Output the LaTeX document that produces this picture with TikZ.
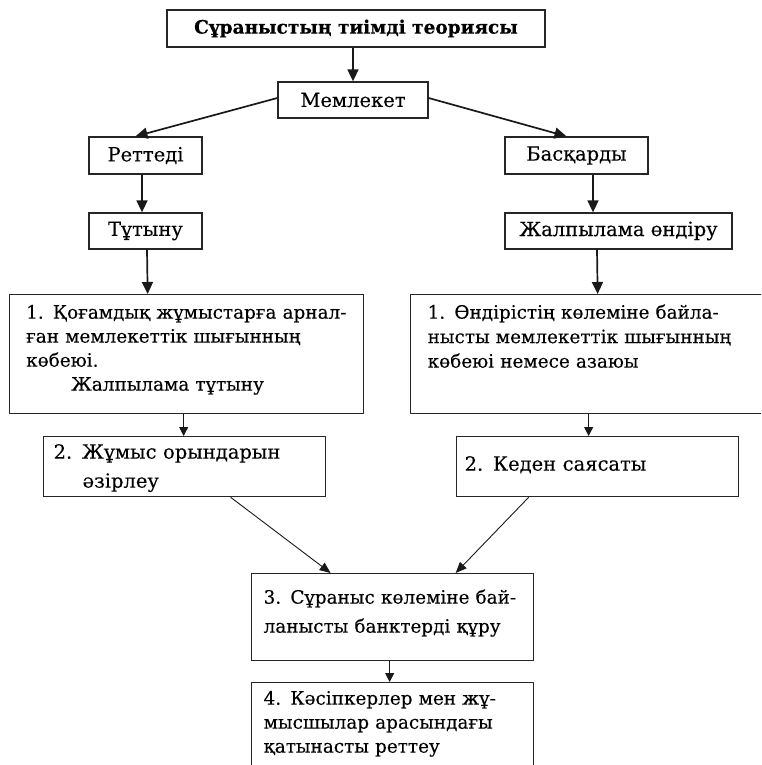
\documentclass[tikz,border=0pt]{standalone}
\usepackage{fontspec}
\setmainfont{DejaVu Serif}[FakeBold=0.2]
\usetikzlibrary{arrows.meta}
\begin{document}
\begin{tikzpicture}[x=1pt,y=-1pt,
  box/.style={draw=black!85, line width=1.3pt, fill=white, inner sep=0pt,
    font=\fontsize{19.5}{24}\selectfont, text=black},
  multibox/.style={box, align=left, font=\fontsize{18.4}{24}\selectfont},
  bigarr/.style={draw=black!90, line width=1.7pt, -{Triangle[length=12pt,width=11pt]}},
  midarr/.style={draw=black!90, line width=1.1pt, -{Triangle[length=9pt,width=9pt]}},
  thinarr/.style={draw=black!90, line width=0.9pt, -{Triangle[length=11pt,width=9pt]}}]
\useasboundingbox (0,0) rectangle (761,765);
\clip (0,0) rectangle (761,765);
% top boxes
\node[box, minimum width=378pt, minimum height=37pt, font=\fontsize{18.5}{24}\selectfont\bfseries] (title) at (356,28.5) {Сұраныстың тиімді теориясы};
\node[box, minimum width=150pt, minimum height=36pt] (mem) at (353,100) {Мемлекет};
\node[box, minimum width=113pt, minimum height=37pt] (ret) at (145.5,155.5) {Реттеді};
\node[box, minimum width=143pt, minimum height=37pt] (bas) at (576.5,155.5) {Басқарды};
\node[box, minimum width=113pt, minimum height=36pt] (tut) at (145.5,231) {Тұтыну};
\node[box, minimum width=227pt, minimum height=36pt] (zhal) at (618.5,231) {Жалпылама өндіру};
% box 1 left
\node[multibox, anchor=north west, text width=321pt, inner xsep=16.5pt,
  text height=24pt, text depth=95pt] (b1L) at (9,294)
  {\makebox[321pt][s]{1. Қоғамдық жұмыстарға арнал-}\\
   \makebox[321pt][s]{ған мемлекеттік шығынның}\\
   көбеюі.\\
   \hspace*{45pt}Жалпылама тұтыну};
% box 1 right
\node[multibox, anchor=north west, text width=326pt, inner xsep=17pt,
  text height=24pt, text depth=95pt] (b1R) at (410,294)
  {\makebox[326pt][s]{1. Өндірістің көлеміне байла-}\\[0.5pt]
   \makebox[326pt][s]{нысты мемлекеттік шығынның}\\[0.5pt]
   көбеюі немесе азаюы};
% box 2 left / right
\node[box, align=left, anchor=north west, text width=262pt, inner xsep=10pt,
  text height=22pt, text depth=38pt] (b2L) at (43,436)
  {2. Жұмыс орындарын\\[5pt]
   \hspace*{29pt}әзірлеу};
\node[box, align=left, anchor=north west, text width=266pt, inner xsep=8pt,
  text height=34pt, text depth=26pt] (b2R) at (456,436)
  {2. Кеден саясаты};
% box 3
\node[multibox, anchor=north west, text width=258pt, inner xsep=12pt,
  text height=30pt, text depth=57pt] (b3) at (251,573)
  {\makebox[258pt][s]{3. Сұраныс көлеміне бай-}\\[5pt]
   \makebox[258pt][s]{ланысты банктерді құру}};
% box 4 (runs past the lower edge)
\node[multibox, anchor=north west, text width=258pt, inner xsep=12pt,
  text height=22pt, text depth=96pt] (b4) at (251,682)
  {\makebox[258pt][s]{4. Кәсіпкерлер мен жұ-}\\
   \makebox[258pt][s]{мысшылар арасындағы}\\
   қатынасты реттеу};
% connectors
\draw[bigarr] (title.south -| mem.north) -- (mem.north);
\draw[bigarr] ([yshift=2pt]mem.west) -- ([xshift=-10pt]ret.north);
\draw[bigarr] ([yshift=2pt]mem.east) -- ([xshift=-10pt]bas.north);
\draw[bigarr] ([xshift=-3.5pt]ret.south) -- ([xshift=-3.5pt]tut.north);
\draw[bigarr] ([xshift=1.5pt]tut.south) -- ([xshift=-39pt]b1L.north);
\draw[bigarr] ([xshift=16.5pt]bas.south) -- ([xshift=-25.5pt]zhal.north);
\draw[bigarr] ([xshift=-21.5pt]zhal.south) -- ([xshift=7pt]b1R.north);
\draw[midarr] ([xshift=-3pt]b1L.south) -- ([xshift=-1pt]b2L.north);
\draw[midarr] ([xshift=-2pt]b1R.south) -- ([xshift=-9pt]b2R.north);
\draw[thinarr] ([xshift=46pt]b2L.south) -- ([xshift=-62pt]b3.north);
\draw[thinarr] ([xshift=-69pt]b2R.south) -- ([xshift=63pt]b3.north);
\draw[midarr] ([xshift=-3pt]b3.south) -- ([xshift=-3pt]b4.north);
\end{tikzpicture}
\end{document}
